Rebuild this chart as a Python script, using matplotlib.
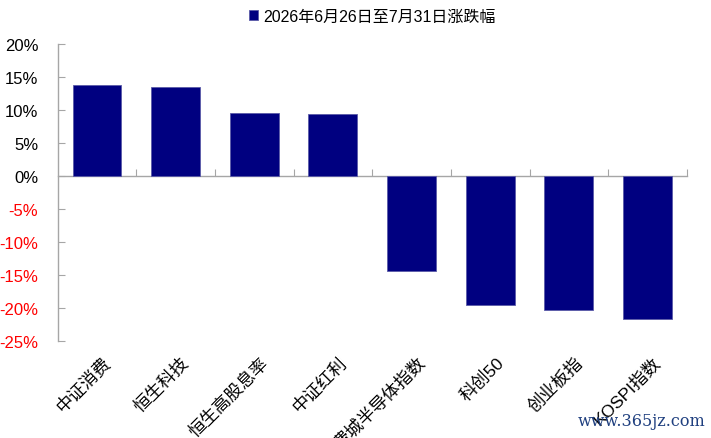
import matplotlib
matplotlib.use("Agg")
import matplotlib.pyplot as plt
from matplotlib.ticker import FixedLocator, FuncFormatter

plt.rcParams['font.family'] = ['Liberation Sans', 'Noto Sans CJK SC', 'DejaVu Sans']

categories = ['中证消费', '恒生科技', '恒生高股息率', '中证红利', '费城半导体指数', '科创50', '创业板指', 'KOSPI指数']
values = [13.85, 13.5, 9.55, 9.45, -14.35, -19.5, -20.3, -21.6]
series_name = '2026年6月26日至7月31日涨跌幅'
yticks = [20, 15, 10, 5, 0, -5, -10, -15, -20, -25]

navy = '#000080'
gray = '#a6a6a6'

fig = plt.figure(figsize=(7.11, 4.39), dpi=100)
ax = fig.add_axes([0.081, 0.221, 0.885, 0.676])

x = list(range(len(categories)))
bars = ax.bar(x, values, width=0.62, color=navy, edgecolor='#5a5aa8', linewidth=0.6, zorder=3,
              label=series_name)

ax.set_xlim(-0.5, len(categories) - 0.5)
ax.set_ylim(-25, 20)
ax.yaxis.set_major_locator(FixedLocator(yticks))
ax.yaxis.set_major_formatter(FuncFormatter(lambda v, p: f'{int(round(v))}%'))

for s in ['top', 'right']:
    ax.spines[s].set_visible(False)
ax.spines['left'].set_color(gray)
ax.spines['bottom'].set_color(gray)
ax.spines['bottom'].set_position(('data', 0))
ax.spines['left'].set_linewidth(1.0)
ax.spines['bottom'].set_linewidth(1.0)

ax.tick_params(axis='y', direction='in', length=5, color=gray, labelsize=12, pad=14)
for lbl, v in zip(ax.get_yticklabels(), yticks):
    lbl.set_color('#ff0000' if v < 0 else 'black')

# x ticks at category boundaries pointing up from zero line
ax.set_xticks([i + 0.5 for i in range(len(categories) - 1)] + [len(categories) - 0.5])
ax.set_xticklabels([])
ax.tick_params(axis='x', direction='in', length=5, color=gray)

for i, c in enumerate(categories):
    ax.annotate(c, xy=(i, 0), xycoords=('data', 'axes fraction'),
                xytext=(4, -9), textcoords='offset points',
                rotation=45, rotation_mode='anchor', ha='right', va='top',
                fontsize=12.5, color='black')

leg = ax.legend(loc='lower center', bbox_to_anchor=(0.5, 1.02), frameon=False,
                handlelength=0.6, handleheight=0.6, handletextpad=0.3, fontsize=11.5)

fig.text(0.992, 0.02, 'www.365jz.com', ha='right', va='bottom', fontsize=11.5,
         color='#1f3f7f', family='DejaVu Serif')

fig.savefig('out.png', dpi=100, facecolor='white')
